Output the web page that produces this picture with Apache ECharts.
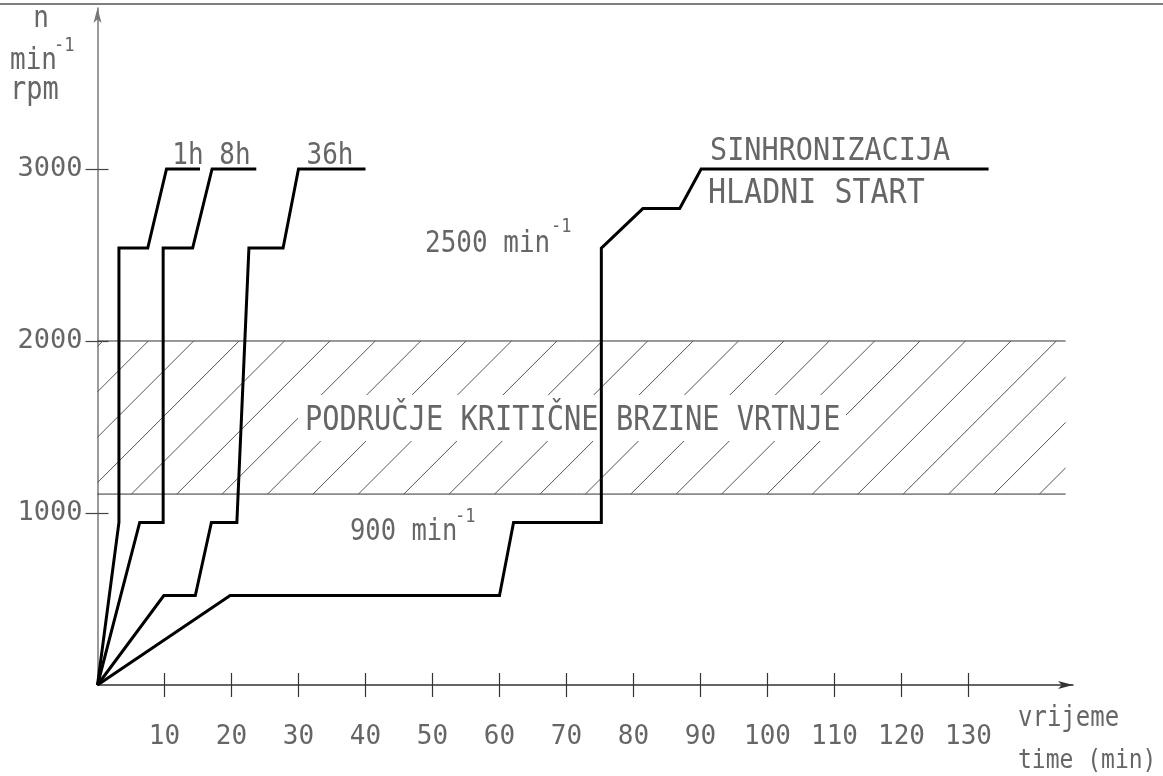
<!DOCTYPE html>
<html lang="hr">
<head>
<meta charset="UTF-8">
<title>Brzina vrtnje / vrijeme</title>
<script src="https://cdn.jsdelivr.net/npm/echarts@6/dist/echarts.min.js"></script>
<style>
  html, body { margin: 0; padding: 0; background: #fff; }
  #main { width: 1163px; height: 776px; }
</style>
</head>
<body>
<div id="main"></div>
<script>
// vrijeme (min) i brzina vrtnje (min^-1) za svako pokretanje
const t1h = [0, 3.2, 3.2, 7.5, 10.3, 15.3];
const n1h = [0, 945, 2540, 2540, 3000, 3000];
const t8h = [0, 6.3, 9.8, 9.8, 14.2, 17.1, 23.7];
const n8h = [0, 945, 945, 2540, 2540, 3000, 3000];
const t36h = [0, 9.9, 14.6, 17.0, 20.8, 22.6, 27.7, 30.0, 40.0];
const n36h = [0, 520, 520, 945, 945, 2540, 2540, 3000, 3000];
const tCold = [0, 19.8, 60.0, 62.1, 75.2, 75.2, 81.4, 86.9, 90.1, 133.0];
const nCold = [0, 520, 520, 945, 945, 2540, 2770, 2770, 3000, 3000];

const xTicks = [10, 20, 30, 40, 50, 60, 70, 80, 90, 100, 110, 120, 130];
const yTicks = [1000, 2000, 3000];
const criticalBand = [1110, 2000]; // područje kritične brzine vrtnje
const bandEnd = 144.5;
const xMax = 145.6;
const yMax = 3936;

const FONT = '"DejaVu Sans Mono", monospace';
const TXT = '#666';

function pairs(xs, ys) {
  return xs.map((x, i) => [x, ys[i]]);
}

function lineSeries(name, xs, ys) {
  return {
    name: name,
    type: 'line',
    z: 5,
    data: pairs(xs, ys),
    showSymbol: false,
    symbol: 'none',
    silent: true,
    lineStyle: { color: '#000', width: 3, join: 'miter', cap: 'butt' }
  };
}

function txt(text, x, y, size, align, sy) {
  return {
    type: 'text', x: x, y: y, z: 10, silent: true,
    scaleY: sy || 1.15,
    style: {
      text: text, fill: TXT, fontFamily: FONT, fontSize: size,
      textAlign: align || 'left', textVerticalAlign: 'middle'
    }
  };
}

let myChart = echarts.init(document.getElementById('main'));

const option = {
  backgroundColor: '#fff',
  animation: false,
  grid: { left: 97.5, right: 90, top: 8, bottom: 91 },
  xAxis: [{
    type: 'value', min: 0, max: xMax,
    axisLine: { show: true, onZero: false, symbol: ['none', 'arrow'], symbolSize: [6, 15],
      lineStyle: { color: '#333', width: 1.5 } },
    axisTick: { show: true, customValues: xTicks, length: 12, lineStyle: { color: '#333', width: 1.2 } },
    axisLabel: { customValues: xTicks, margin: 39, fontFamily: FONT, fontSize: 26, color: TXT },
    splitLine: { show: false }
  }, {
    type: 'value', min: 0, max: xMax, position: 'bottom',
    axisLine: { show: false },
    axisTick: { show: true, inside: true, customValues: xTicks, length: 12, lineStyle: { color: '#333', width: 1.2 } },
    axisLabel: { show: false },
    splitLine: { show: false }
  }],
  yAxis: [{
    type: 'value', min: 0, max: yMax,
    axisLine: { show: true, onZero: false, symbol: ['none', 'arrow'], symbolSize: [6, 15],
      lineStyle: { color: '#777', width: 1.5 } },
    axisTick: { show: true, customValues: yTicks, length: 12, lineStyle: { color: '#444', width: 1.2 } },
    axisLabel: { customValues: yTicks, margin: 15, fontFamily: FONT, fontSize: 27, color: TXT,
      formatter: v => String(v) },
    splitLine: { show: false }
  }, {
    type: 'value', min: 0, max: yMax, position: 'left',
    axisLine: { show: false },
    axisTick: { show: true, inside: true, customValues: yTicks, length: 11, lineStyle: { color: '#444', width: 1.2 } },
    axisLabel: { show: false },
    splitLine: { show: false }
  }],
  graphic: [
    { type: 'line', z: 10, shape: { x1: 0, y1: 4, x2: 1163, y2: 4 }, style: { stroke: '#555', lineWidth: 1.5 } },
    txt('n', 41, 19, 26, 'center'),
    txt('min', 10, 61, 26),
    txt('-1', 54, 46, 17),
    txt('rpm', 10, 91, 27),
    txt('1h', 188, 156, 26, 'center'),
    txt('8h', 235, 156, 26, 'center'),
    txt('36h', 330, 156, 26, 'center'),
    txt('SINHRONIZACIJA', 710, 151, 28.5),
    txt('HLADNI START', 708, 194, 30),
    txt('2500 min', 425, 244, 26),
    txt('-1', 551, 227, 17),
    txt('900 min', 350, 532, 25.5),
    txt('-1', 455, 517, 17),
    { type: 'rect', z: 2, silent: true, shape: { x: 298, y: 395, width: 548, height: 46 }, style: { fill: '#fff' } },
    txt('PODRUČJE KRITIČNE BRZINE VRTNJE', 305, 421, 28.7),
    txt('vrijeme', 1018, 719, 24),
    txt('time (min)', 1018, 761, 23)
  ],
  series: [
    {
      type: 'custom',
      z: 1,
      silent: true,
      data: [[0, bandEnd, criticalBand[0], criticalBand[1]]],
      encode: { x: [0, 1], y: [2, 3] },
      renderItem: function (params, api) {
        const a = api.coord([api.value(0), api.value(3)]);
        const b = api.coord([api.value(1), api.value(2)]);
        const xl = a[0], yt = a[1], xr = b[0], yb = b[1];
        const gap = 45.4, phase = 5.4;
        const children = [
          { type: 'line', shape: { x1: xl, y1: yt, x2: xr, y2: yt }, style: { stroke: '#333', lineWidth: 1 } },
          { type: 'line', shape: { x1: xl, y1: yb, x2: xr, y2: yb }, style: { stroke: '#333', lineWidth: 1 } }
        ];
        // šrafura pod 45°: x + y = c
        for (let xTop = xl + phase; xTop - (yb - yt) < xr; xTop += gap) {
          const c = xTop + yt;
          const xs = Math.max(xl, c - yb);
          const xe = Math.min(xr, c - yt);
          if (xe <= xs) continue;
          children.push({
            type: 'line',
            shape: { x1: xs, y1: c - xs, x2: xe, y2: c - xe },
            style: { stroke: '#555', lineWidth: 1 }
          });
        }
        return { type: 'group', children: children };
      }
    },
    lineSeries('1h', t1h, n1h),
    lineSeries('8h', t8h, n8h),
    lineSeries('36h', t36h, n36h),
    lineSeries('hladni start', tCold, nCold)
  ]
};

myChart.setOption(option);
</script>
</body>
</html>
